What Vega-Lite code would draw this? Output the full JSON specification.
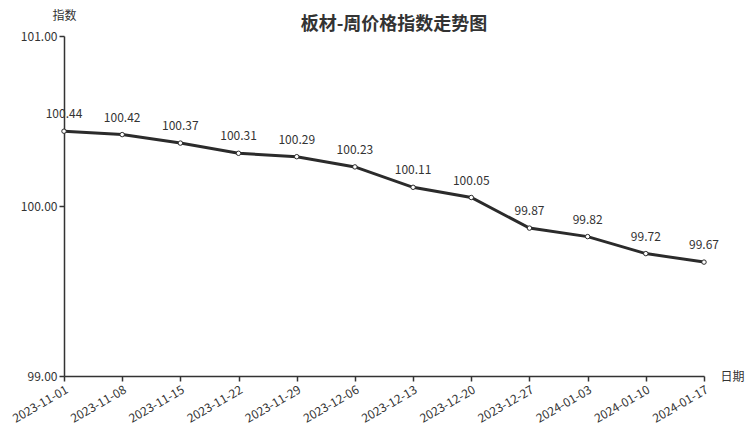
{
  "$schema": "https://vega.github.io/schema/vega-lite/v6.json",
  "width": 640,
  "height": 340,
  "autosize": {"type": "none"},
  "padding": {"left": 64, "top": 36, "right": 48, "bottom": 51},
  "background": "white",
  "config": {
    "font": "Noto Sans CJK SC",
    "view": {"stroke": null},
    "axis": {"grid": false, "domainColor": "#333", "tickColor": "#333", "labelColor": "#333", "titleColor": "#333", "labelFontSize": 12, "titleFontSize": 12, "titleFontWeight": "normal", "domainWidth": 1.5, "tickWidth": 1.5}
  },
  "title": {"text": "板材-周价格指数走势图", "fontSize": 18, "fontWeight": "bold", "color": "#333", "anchor": "middle", "dx": 10, "dy": 29},
  "data": {"values": [
    {"date": "2023-11-01", "v": 100.44},
    {"date": "2023-11-08", "v": 100.42},
    {"date": "2023-11-15", "v": 100.37},
    {"date": "2023-11-22", "v": 100.31},
    {"date": "2023-11-29", "v": 100.29},
    {"date": "2023-12-06", "v": 100.23},
    {"date": "2023-12-13", "v": 100.11},
    {"date": "2023-12-20", "v": 100.05},
    {"date": "2023-12-27", "v": 99.87},
    {"date": "2024-01-03", "v": 99.82},
    {"date": "2024-01-10", "v": 99.72},
    {"date": "2024-01-17", "v": 99.67}
  ]},
  "encoding": {
    "x": {"field": "date", "type": "ordinal", "scale": {"type": "point", "padding": 0}, "sort": null,
      "axis": {"title": "日期", "labelAngle": -30, "labelAlign": "right", "labelBaseline": "top", "titleX": 656, "titleY": 0, "titleAlign": "left", "titleBaseline": "middle", "tickSize": 5, "labelPadding": 3}},
    "y": {"field": "v", "type": "quantitative", "scale": {"domain": [99, 101], "zero": false},
      "axis": {"title": "指数", "values": [99, 100, 101], "format": ".2f", "titleAngle": 0, "titleX": 0, "titleY": -21, "titleAlign": "center", "titleBaseline": "middle", "tickSize": 5}}
  },
  "layer": [
    {"mark": {"type": "line", "color": "#2b2b2b", "strokeWidth": 3}},
    {"mark": {"type": "point", "filled": true, "fill": "white", "stroke": "#2b2b2b", "strokeWidth": 1, "size": 20, "opacity": 1}},
    {"mark": {"type": "text", "color": "#333", "fontSize": 12, "dy": -17, "baseline": "middle"}, "encoding": {"text": {"field": "v", "type": "quantitative", "format": ".2f"}}}
  ]
}
